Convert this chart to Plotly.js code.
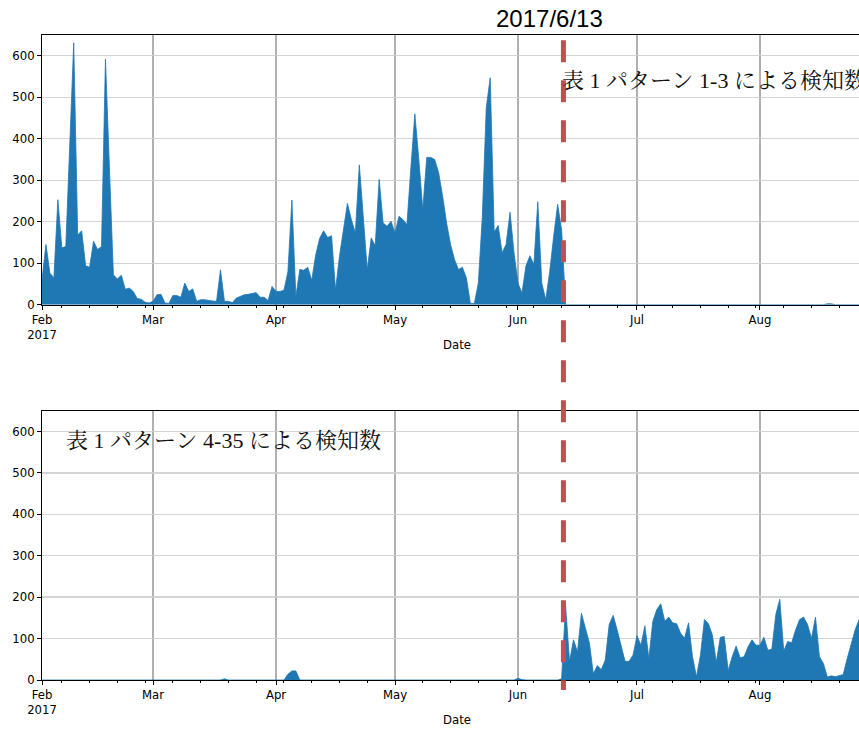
<!DOCTYPE html>
<html>
<head>
<meta charset="utf-8">
<script src="https://cdn.plot.ly/plotly-3.0.1.min.js"></script>
<style>
html, body { margin: 0; padding: 0; overflow: hidden; background: #fff; }
#chart { width: 871px; height: 731px; }
</style>
</head>
<body>
<div id="chart"></div>
<script>
// Daily counts starting 2017-02-01
const startDate = '2017-02-01';

// 表1 パターン1-3 による検知数 (top panel)
const pattern1to3 = [
  60, 145, 76, 65, 253, 137, 140, 385, 631, 168,
  178, 94, 90, 153, 133, 140, 592, 330, 72, 62,
  71, 37, 40, 32, 15, 13, 6, 4, 8, 24,
  25, 4, 3, 22, 22, 18, 52, 32, 38, 8,
  12, 12, 10, 9, 8, 84, 8, 8, 5, 16,
  20, 24, 25, 27, 29, 18, 18, 10, 44, 32,
  32, 35, 80, 252, 20, 85, 83, 90, 59, 120,
  160, 178, 162, 166, 36, 117, 181, 244, 205, 173,
  337, 200, 85, 161, 142, 302, 197, 189, 201, 173,
  213, 205, 193, 330, 460, 350, 229, 355, 355, 350,
  318, 262, 197, 145, 109, 85, 90, 64, 3, 3,
  52, 210, 475, 547, 175, 191, 125, 145, 223, 125,
  52, 28, 93, 118, 97, 248, 52, 12, 80, 165,
  242, 180, 0, 0, 0, 0, 0, 0, 0, 0,
  0, 0, 0, 0, 0, 0, 0, 0, 0, 0,
  0, 0, 0, 0, 0, 0, 0, 0, 0, 0,
  0, 0, 0, 0, 0, 0, 0, 0, 0, 0,
  0, 0, 0, 0, 0, 0, 0, 0, 0, 0,
  0, 0, 0, 0, 0, 0, 0, 0, 0, 0,
  0, 0, 0, 0, 0, 0, 0, 0, 2, 2,
  0, 0, 0, 0, 0, 0, 0, 0
];

// 表1 パターン4-35 による検知数 (bottom panel)
const pattern4to35 = [
  0, 0, 0, 0, 0, 1, 0, 0, 0, 0,
  0, 0, 1, 0, 0, 0, 0, 0, 0, 0,
  1, 0, 0, 0, 0, 0, 0, 1, 0, 0,
  0, 0, 0, 1, 0, 0, 0, 0, 0, 0,
  1, 0, 0, 0, 0, 0, 3, 0, 0, 0,
  0, 0, 1, 0, 0, 0, 0, 0, 1, 0,
  0, 0, 14, 22, 22, 0, 0, 0, 0, 0,
  1, 0, 0, 0, 0, 0, 0, 0, 1, 0,
  0, 0, 0, 0, 0, 1, 0, 0, 0, 0,
  0, 0, 1, 0, 0, 0, 0, 0, 0, 0,
  1, 0, 0, 0, 0, 0, 1, 0, 0, 0,
  0, 0, 0, 1, 0, 0, 0, 0, 0, 0,
  4, 1, 0, 0, 0, 0, 1, 0, 0, 0,
  0, 3, 179, 45, 97, 68, 161, 125, 90, 15,
  35, 25, 48, 134, 156, 121, 84, 45, 45, 60,
  107, 84, 131, 52, 142, 170, 184, 142, 152, 138,
  136, 113, 101, 138, 56, 8, 60, 146, 136, 109,
  43, 103, 105, 23, 56, 82, 54, 56, 80, 97,
  84, 84, 103, 72, 74, 158, 195, 70, 93, 90,
  121, 146, 152, 134, 101, 152, 56, 40, 7, 10,
  8, 10, 13, 52, 89, 121, 146, 160
];

const monthTickVals = ['2017-02-01','2017-03-01','2017-04-01','2017-05-01','2017-06-01','2017-07-01','2017-08-01'];
const monthTickText = ['Feb<br>2017','Mar','Apr','May','Jun','Jul','Aug'];
const yTickVals = [0, 100, 200, 300, 400, 500, 600];
const switchDate = '2017-06-12 11:00';
const switchLabel = '2017/6/13';
const label1 = '表 1 パターン 1-3 による検知数';
const label2 = '表 1 パターン 4-35 による検知数';
const xTitle = 'Date';

const t0 = Date.parse(startDate + 'T00:00:00Z');
const dates = pattern1to3.map((_, i) => new Date(t0 + i * 86400000).toISOString().slice(0, 10));

const blue = '#1f77b4';
const traces = [
  { x: dates, y: pattern1to3, type: 'scatter', mode: 'lines', fill: 'tozeroy',
    line: { color: blue, width: 0.8 }, fillcolor: blue, xaxis: 'x', yaxis: 'y', hoverinfo: 'skip' },
  { x: dates, y: pattern4to35, type: 'scatter', mode: 'lines', fill: 'tozeroy',
    line: { color: blue, width: 0.8 }, fillcolor: blue, xaxis: 'x2', yaxis: 'y2', hoverinfo: 'skip' }
];

const tickFont = { family: 'DejaVu Sans', size: 11.7, color: '#000' };
function xAxis(anchor) {
  return {
    type: 'date', range: ['2017-02-01', '2017-08-29'], anchor: anchor,
    tickmode: 'array', tickvals: monthTickVals, ticktext: monthTickText,
    ticks: 'outside', ticklen: 4, tickwidth: 1, tickcolor: '#000',
    showline: true, linecolor: '#000', linewidth: 1, mirror: true,
    showgrid: true, gridcolor: '#b0b0b0', gridwidth: 1.3,
    zeroline: false, layer: 'above traces', tickfont: tickFont,
    minor: { ticks: 'outside', ticklen: 2, tickwidth: 1, tickcolor: '#000',
             tick0: '2017-02-06', dtick: 604800000, showgrid: false }
  };
}
function yAxis(anchor, domain) {
  return {
    range: [0, 650], domain: domain, anchor: anchor,
    tickmode: 'array', tickvals: yTickVals,
    ticks: 'outside', ticklen: 4, tickwidth: 1, tickcolor: '#000',
    showline: true, linecolor: '#000', linewidth: 1, mirror: true,
    showgrid: true, gridcolor: 'rgba(205,205,205,0.85)', gridwidth: 1.3,
    zeroline: false, layer: 'above traces', tickfont: tickFont
  };
}

const cjkFont = { family: '"Liberation Serif", "Noto Serif CJK JP", "Noto Sans CJK JP", serif', size: 22, color: '#111' };

const layout = {
  width: 871, height: 731,
  margin: { l: 42, r: 0, t: 35, b: 51, pad: 0 },
  paper_bgcolor: '#fff', plot_bgcolor: '#fff',
  showlegend: false,
  font: tickFont,
  xaxis: Object.assign(xAxis('y'), { domain: [0, 1] }),
  yaxis: yAxis('x', [0.5819, 1]),
  xaxis2: Object.assign(xAxis('y2'), { domain: [0, 1], matches: 'x' }),
  yaxis2: yAxis('x2', [0, 0.4175]),
  shapes: [{
    type: 'line', xref: 'x', yref: 'paper',
    x0: switchDate, x1: switchDate, y0: 0.992, y1: -0.0155,
    line: { color: '#c44e52', width: 5, dash: '22px,18px' }, layer: 'above'
  }],
  annotations: [
    { text: switchLabel, xref: 'paper', yref: 'paper', x: (549.5 - 42) / 829, y: (680 - 18) / 645,
      xanchor: 'center', yanchor: 'middle', showarrow: false,
      font: { family: '"Liberation Sans", Arial, sans-serif', size: 24, color: '#000' } },
    { text: label1, xref: 'paper', yref: 'paper', x: (560 - 42) / 829, y: (680 - 81) / 645,
      xanchor: 'left', yanchor: 'middle', showarrow: false, font: cjkFont },
    { text: label2, xref: 'paper', yref: 'paper', x: (64 - 42) / 829, y: (680 - 440) / 645,
      xanchor: 'left', yanchor: 'middle', showarrow: false, font: cjkFont },
    { text: xTitle, xref: 'paper', yref: 'paper', x: 0.5, y: (680 - 345) / 645,
      xanchor: 'center', yanchor: 'middle', showarrow: false, font: tickFont },
    { text: xTitle, xref: 'paper', yref: 'paper', x: 0.5, y: (680 - 720) / 645,
      xanchor: 'center', yanchor: 'middle', showarrow: false, font: tickFont }
  ]
};

Plotly.newPlot('chart', traces, layout, { staticPlot: true, displayModeBar: false });
</script>
</body>
</html>
